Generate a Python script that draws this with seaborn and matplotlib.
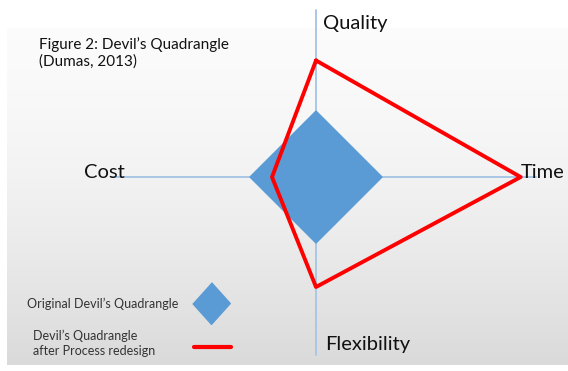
import numpy as np
import pandas as pd
import seaborn as sns
import matplotlib.pyplot as plt

# axes of the quadrangle (clockwise from top) and the two profiles
categories = ["Quality", "Time", "Flexibility", "Cost"]
original = [3.0, 3.0, 3.0, 3.0]
redesign = [5.3, 9.3, 5.0, 2.0]

sns.set_theme(style="white")
plt.rcParams["font.family"] = ["Lato", "DejaVu Sans"]

# unit vectors for each axis direction
dirs = {"Quality": (0, 1), "Time": (1, 0), "Flexibility": (0, -1), "Cost": (-1, 0)}

def to_xy(vals):
    xs = [dirs[c][0] * v for c, v in zip(categories, vals)]
    ys = [dirs[c][1] * v for c, v in zip(categories, vals)]
    return xs + xs[:1], ys + ys[:1]

fig = plt.figure(figsize=(5.68, 3.71), dpi=100)
fig.patch.set_facecolor("white")
ax = fig.add_axes([0, 0, 1, 1])
ax.set_xlim(-14.36, 11.45)
ax.set_ylim(-8.82, 8.05)
ax.axis("off")

# soft grey gradient background like the slide (lighter at top)
t = np.linspace(0, 1, 256) ** 1.6
shade = 0.985 - 0.13 * t
grad = np.dstack([shade, shade, shade]).reshape(-1, 1, 3)
ax.imshow(grad, aspect="auto", extent=[-14.05, 11.45, -8.55, 6.77],
          origin="upper", zorder=0)

# axis lines
axis_col = "#a9c7e6"
ax.plot([0, 0], [7.6, -8.1], color=axis_col, lw=1.4, zorder=1)
ax.plot([-9.3, 10.0], [0, 0], color=axis_col, lw=1.4, zorder=1)

# original quadrangle (filled)
ox, oy = to_xy(original)
ax.fill(ox, oy, color="#5b9bd5", zorder=2)

# after redesign (red outline)
rx, ry = to_xy(redesign)
df = pd.DataFrame({"x": rx, "y": ry})
sns.lineplot(data=df, x="x", y="y", sort=False, color="#ff0000", lw=2.8,
             ax=ax, zorder=3, estimator=None)
ax.set_xlabel("")
ax.set_ylabel("")

# axis labels
lab_fs = 14.5
ax.text(0.3, 7.0, "Quality", fontsize=lab_fs, ha="left", va="center", color="#111111")
ax.text(9.3, 0.2, "Time", fontsize=lab_fs, ha="left", va="center", color="#111111")
ax.text(-8.7, 0.2, "Cost", fontsize=lab_fs, ha="right", va="center", color="#111111")
ax.text(0.4, -7.6, "Flexibility", fontsize=lab_fs, ha="left", va="center", color="#111111")

# caption
ax.text(-12.6, 5.64, "Figure 2: Devil\u2019s Quadrangle\n(Dumas, 2013)",
        fontsize=11, ha="left", va="center", linespacing=1.25, color="#111111")

# hand-made legend
ax.text(-13.14, -5.77, "Original Devil\u2019s Quadrangle", fontsize=9,
        ha="left", va="center", color="#333333")
ax.plot([-4.77], [-5.73], marker=[(0, 1), (0.9, 0), (0, -1), (-0.9, 0)],
        markersize=30, color="#5b9bd5", ls="none")
ax.text(-12.86, -7.57, "Devil\u2019s Quadrangle\nafter Process redesign",
        fontsize=9, ha="left", va="center", color="#333333", linespacing=1.35)
ax.plot([-5.55, -3.86], [-7.73, -7.73], color="#ff0000", lw=3)

plt.savefig("out.png", dpi=100)
